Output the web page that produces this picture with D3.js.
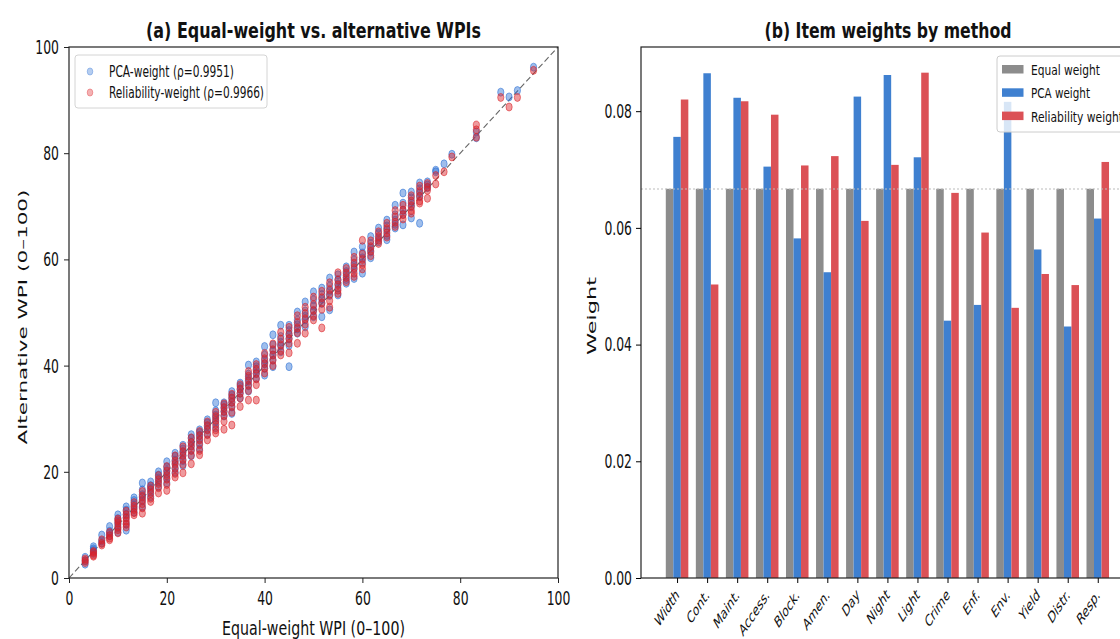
<!DOCTYPE html>
<html><head><meta charset="utf-8">
<script src="https://cdn.jsdelivr.net/npm/d3@7"></script>
<style>
body{margin:0;background:#fff;}
text{font-family:"DejaVu Sans",sans-serif;fill:#111;}
</style></head><body>
<svg id="c" width="1120" height="639"></svg>
<script>
// ---------- Panel (a) data ----------
const equalWPI = [3.3,5.0,6.7,8.3,10.0,11.7,13.3,15.0,16.7,18.3,20.0,21.7,23.3,25.0,26.7,28.3,30.0,31.7,33.3,35.0,36.7,38.3,40.0,41.7,43.3,45.0,46.7,48.3,50.0,51.7,53.3,55.0,56.7,58.3,60.0,61.7,63.3,65.0,66.7,68.3,70.0,71.7,73.3,75.0,76.7,78.3,83.3,88.3,90.0,91.7,95.0];
const pcaWPI = [
 [3.2,2.6,3.9],[5.9,5.2,4.6,5.5],[8.1,7.0,6.6],[9.7,8.8,8.4,7.9],
 [11.9,11.2,10.5,10.0,9.4,8.6],[13.4,12.8,12.0,11.4,10.2,9.0],[15.1,14.6,13.8,13.2,12.4],
 [17.9,16.6,15.7,15.2,14.5,13.4],[18.1,17.4,16.9,16.2,15.3],[20.0,19.4,18.8,18.1,17.2],
 [21.9,20.9,20.3,19.6,18.8,17.9],[23.5,22.9,22.2,21.6,20.7,19.9],[25.0,24.3,23.6,23.0,22.1,21.2],
 [27.0,26.3,25.6,24.9,24.1,23.0],[27.9,27.4,26.9,26.2,25.4,24.3],[29.8,29.2,28.6,28.0,27.1],
 [33.0,31.5,30.7,30.1,29.4,28.3],[33.0,32.6,32.0,31.3,30.5],[35.1,34.4,33.8,33.1,32.2,31.0],
 [36.7,36.1,35.5,34.8,33.9],[40.1,38.4,37.6,37.0,36.2,35.2],[40.7,39.8,39.1,38.5,37.6],
 [43.6,42.0,41.0,40.3,39.5,38.2],[45.8,43.9,42.8,42.0,41.1,39.8],[47.6,45.5,44.4,43.7,42.6],
 [47.6,46.6,45.8,45.0,43.8,39.8],[50.1,48.6,47.7,46.9,46.1],[52.0,50.3,49.3,48.6,47.3],
 [53.9,52.4,51.2,50.3,49.2],[54.6,53.4,52.5,51.7,49.2],[56.5,55.0,54.0,53.2,50.5],
 [57.1,56.2,55.4,54.6,53.3],[58.6,57.7,57.0,56.2,55.5],[61.4,59.9,58.9,58.1,56.4],
 [62.4,61.2,60.3,59.4,57.4],[64.3,63.0,62.1,61.4,60.3],[65.9,64.9,64.0,63.3],
 [67.4,66.3,65.5,64.5,63.7],[70.2,68.4,67.4,66.6,65.9],[72.5,70.6,69.2,68.5,66.5],
 [72.7,71.6,70.6,69.9,67.8],[74.4,73.3,72.5,71.8,66.8],[74.6,74.0,73.5],[76.8,76.5],
 [78.0],[79.8],[84.0,82.9],[91.5],[90.6],[91.8],[96.2]
];
const relWPI = [
 [3.6,2.9,3.3],[4.3,4.8,5.0,4.1],[6.2,7.2,6.5],[7.5,8.0,8.6,7.2],
 [10.3,9.6,9.1,8.5,10.8,11.1],[12.6,11.9,11.3,10.7,10.1,9.6],[14.2,13.5,12.9,12.3,11.9],
 [16.3,15.4,14.7,14.0,13.2,12.2],[17.3,16.6,15.9,15.0,14.4],[19.3,18.5,17.8,17.0,16.0],
 [21.0,20.1,19.3,18.6,17.6,16.5],[23.0,22.0,21.4,20.6,19.7,19.0],[24.7,23.8,23.1,22.3,21.4,19.8],
 [26.4,25.5,24.8,24.0,23.1,21.5],[27.6,26.8,26.0,25.1,24.0,23.2],[29.4,28.7,27.9,27.0,26.0],
 [31.2,30.4,29.7,28.9,27.9,27.3],[32.8,32.1,31.4,30.6,29.5,28.0],[34.6,33.9,33.1,32.3,31.2,28.8],
 [36.4,35.6,34.8,33.9,32.3],[38.9,38.0,37.2,36.3,35.3,33.5],[40.2,39.3,38.5,37.5,36.4,33.5],
 [42.3,41.3,40.4,39.5,38.6],[44.1,43.0,42.0,41.0,40.0],[46.3,45.0,43.9,42.8,42.0],
 [47.2,46.0,45.1,44.2,42.4],[49.4,48.1,47.1,46.2,44.2],[51.0,49.8,48.8,47.8,46.1],
 [52.9,51.5,50.4,49.4,48.6],[54.0,52.8,51.8,50.6,47.1],[55.6,54.3,53.4,52.2,51.0],
 [57.5,56.1,55.2,54.2,53.6],[58.3,57.4,56.6,55.8],[60.4,59.3,58.4,57.4,56.8],
 [63.6,61.0,60.0,59.0,58.2],[63.5,62.4,61.6,60.7],[65.2,64.3,63.6,63.0],
 [66.8,65.8,65.0,64.2],[69.2,68.0,67.0,66.2],[70.2,69.3,68.4,67.6],
 [72.0,71.0,70.1,69.2,68.7],[73.8,72.8,71.9,71.0,70.6],[74.3,73.6,73.0,71.5],[75.8,74.2],
 [76.5],[79.3],[85.3,84.4,83.0],[90.5],[88.7],[90.5],[95.6]
];
const axisTicksA = [0,20,40,60,80,100];
const legendA = ["PCA-weight (\u03c1=0.9951)","Reliability-weight (\u03c1=0.9966)"];

// ---------- Panel (b) data ----------
const items = ["Width","Cont.","Maint.","Access.","Block.","Amen.","Day","Night","Light","Crime","Enf.","Env.","Yield","Distr.","Resp."];
const equalW = [0.0667,0.0667,0.0667,0.0667,0.0667,0.0667,0.0667,0.0667,0.0667,0.0667,0.0667,0.0667,0.0667,0.0667,0.0667];
const pcaW   = [0.0756,0.0865,0.0823,0.0705,0.0582,0.0524,0.0825,0.0862,0.0721,0.0441,0.0468,0.0816,0.0563,0.0431,0.0616];
const relW   = [0.0820,0.0503,0.0817,0.0794,0.0707,0.0723,0.0612,0.0708,0.0866,0.0660,0.0592,0.0463,0.0521,0.0502,0.0713];
const weightTicks = [0.00,0.02,0.04,0.06,0.08];
const seriesB = ["Equal weight","PCA weight","Reliability weight"];

const cBlue = "#2a6fd4", cRed = "#dc2026";
const barColors = ["#8c8c8c","#3f80d0","#db5156"];
const SX = 0.62; // horizontal squeeze of the figure's glyphs

const svg = d3.select("#c");

function squeezeTicks(axisG, dx, dy){
  axisG.selectAll(".tick text").each(function(){
    const t=d3.select(this);
    t.attr("x",0).attr("y",0).attr("transform",`translate(${dx},${dy}) scale(${SX},1)`);
  });
}
function htext(g,x,y,str,size,len,opts={}){
  const t=g.append("text").attr("x",x).attr("y",y).attr("font-size",size)
    .attr("textLength",len).attr("lengthAdjust","spacingAndGlyphs").text(str);
  if(opts.anchor) t.attr("text-anchor",opts.anchor);
  if(opts.bold) t.attr("font-weight","bold");
  return t;
}
function vtext(g,x,y,str,size,len){
  return g.append("text").attr("transform",`translate(${x},${y}) scale(${SX},1) rotate(-90)`)
    .attr("text-anchor","middle").attr("font-size",size)
    .attr("textLength",len).attr("lengthAdjust","spacingAndGlyphs").text(str);
}

// ================= Panel (a) =================
const ax = {l:69,r:558,t:47,b:578};
const xA = d3.scaleLinear().domain([0,100]).range([ax.l,ax.r]);
const yA = d3.scaleLinear().domain([0,100]).range([ax.b,ax.t]);
const gA = svg.append("g");

gA.append("line").attr("x1",xA(0)).attr("y1",yA(0)).attr("x2",xA(100)).attr("y2",yA(100))
  .attr("stroke","#666").attr("stroke-width",1.1).attr("stroke-dasharray","6,3");

function pts(arr,color){
  const flat=[];
  arr.forEach((col,i)=>col.forEach(v=>flat.push([equalWPI[i],v])));
  gA.append("g").selectAll("ellipse").data(flat).join("ellipse")
    .attr("cx",d=>xA(d[0])).attr("cy",d=>yA(d[1])).attr("rx",3.1).attr("ry",4.0)
    .attr("fill",color).attr("fill-opacity",0.45)
    .attr("stroke",color).attr("stroke-opacity",0.55).attr("stroke-width",1);
}
pts(pcaWPI,cBlue);
pts(relWPI,cRed);

gA.append("rect").attr("x",ax.l).attr("y",ax.t).attr("width",ax.r-ax.l).attr("height",ax.b-ax.t)
  .attr("fill","none").attr("stroke","#222").attr("stroke-width",1.2);

const axBA = gA.append("g").attr("transform",`translate(0,${ax.b})`)
  .call(d3.axisBottom(xA).tickValues(axisTicksA).tickSize(5));
const axLA = gA.append("g").attr("transform",`translate(${ax.l},0)`)
  .call(d3.axisLeft(yA).tickValues(axisTicksA).tickSize(5));
[axBA,axLA].forEach(a=>{a.select(".domain").remove();a.selectAll("text").attr("font-size",20).attr("fill","#111");a.selectAll("line").attr("stroke","#222");});
squeezeTicks(axBA,0,13);
squeezeTicks(axLA,-10,0);

htext(gA,(ax.l+ax.r)/2,38,"(a) Equal-weight vs. alternative WPIs",22,335,{anchor:"middle",bold:true});
htext(gA,(ax.l+ax.r)/2,635,"Equal-weight WPI (0\u2013100)",19,183,{anchor:"middle"});
vtext(gA,27,317,"Alternative WPI (0\u2013100)",21,255);

// legend a
const lgA = gA.append("g");
lgA.append("rect").attr("x",75).attr("y",55).attr("width",192).attr("height",53).attr("rx",3)
  .attr("fill","#fff").attr("fill-opacity",0.8).attr("stroke","#d4d4d4");
legendA.forEach((t,i)=>{
  const c=[cBlue,cRed][i];
  lgA.append("ellipse").attr("cx",90).attr("cy",71.5+i*21).attr("rx",2.8).attr("ry",3.6).attr("fill",c).attr("fill-opacity",0.35).attr("stroke",c).attr("stroke-opacity",0.35);
  htext(lgA,109,76.5+i*21,t,15,[125,155][i]);
});

// ================= Panel (b) =================
const bx = {l:641,t:47,b:578};
const unit = 30.05;
const xB = d3.scaleLinear().domain([-1.2,15.2]).range([bx.l,bx.l+16.4*unit]);
const yB = d3.scaleLinear().domain([0,0.091]).range([bx.b,bx.t]);
const gB = svg.append("g");
const bw = 0.25;
[equalW,pcaW,relW].forEach((vals,s)=>{
  gB.append("g").selectAll("rect").data(vals).join("rect")
    .attr("x",(d,i)=>xB(i+(s-1)*bw-bw/2)).attr("width",xB(bw)-xB(0))
    .attr("y",d=>yB(d)).attr("height",d=>yB(0)-yB(d)).attr("fill",barColors[s]);
});
gB.append("line").attr("x1",bx.l).attr("x2",1120).attr("y1",yB(1/15)).attr("y2",yB(1/15))
  .attr("stroke","#bbb").attr("stroke-width",1.2).attr("stroke-dasharray","2,2");
gB.append("rect").attr("x",bx.l).attr("y",bx.t).attr("width",xB(15.2)-bx.l).attr("height",bx.b-bx.t)
  .attr("fill","none").attr("stroke","#222").attr("stroke-width",1.2);

const axLB = gB.append("g").attr("transform",`translate(${bx.l},0)`)
  .call(d3.axisLeft(yB).tickValues(weightTicks).tickFormat(d3.format(".2f")).tickSize(5));
axLB.select(".domain").remove();
axLB.selectAll("text").attr("font-size",20).attr("fill","#111");
squeezeTicks(axLB,-9,0);
const axBB = gB.append("g").attr("transform",`translate(0,${bx.b})`)
  .call(d3.axisBottom(xB).tickValues(d3.range(items.length)).tickFormat(i=>items[i]).tickSize(5));
axBB.select(".domain").remove();
axBB.selectAll(".tick text").attr("font-size",16).attr("fill","#111").attr("text-anchor","end")
  .attr("x",0).attr("y",0).attr("dy","0.35em")
  .attr("transform",`translate(0,14) scale(${SX},1) rotate(-43)`);

htext(gB,888,38,"(b) Item weights by method",22,247,{anchor:"middle",bold:true});
vtext(gB,596,316,"Weight",21,78);

const lgB = gB.append("g");
lgB.append("rect").attr("x",997).attr("y",56).attr("width",140).attr("height",76).attr("rx",3)
  .attr("fill","#fff").attr("fill-opacity",0.8).attr("stroke","#ccc");
seriesB.forEach((t,i)=>{
  lgB.append("rect").attr("x",1002).attr("y",65+i*23.3).attr("width",21.5).attr("height",8.5).attr("fill",barColors[i]);
  htext(lgB,1031,75+i*23.3,t,14,[69,59,92][i]);
});
</script></body></html>
